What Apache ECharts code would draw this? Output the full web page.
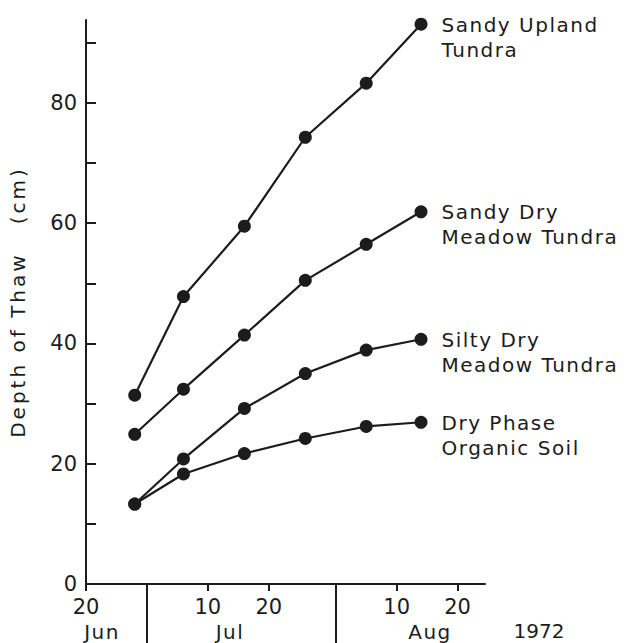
<!DOCTYPE html>
<html>
<head>
<meta charset="utf-8">
<title>Depth of Thaw, 1972</title>
<script src="https://cdn.jsdelivr.net/npm/echarts@6/dist/echarts.min.js"></script>
<style>
  html, body { margin: 0; padding: 0; background: #ffffff; }
  #chart { width: 633px; height: 643px; }
</style>
</head>
<body>
<div id="chart"></div>
<script>
// Season start used as day 0 of the horizontal axis
const seasonStart = '1972-06-20';
const seasonEndDay = 65.5;

// Thaw-depth survey dates
const sampleDates = ['1972-06-28', '1972-07-06', '1972-07-16', '1972-07-26', '1972-08-05', '1972-08-14'];

// Depth of thaw (cm) for each site
const siteNames = ['Sandy Upland\nTundra', 'Sandy Dry\nMeadow Tundra', 'Silty Dry\nMeadow Tundra', 'Dry Phase\nOrganic Soil'];
const sandyUpland     = [31.4, 47.8, 59.5, 74.3, 83.3, 93.1];
const sandyDryMeadow  = [24.9, 32.4, 41.4, 50.5, 56.5, 61.9];
const siltyDryMeadow  = [13.3, 20.8, 29.2, 35.0, 38.9, 40.7];
const dryPhaseOrganic = [13.3, 18.3, 21.7, 24.2, 26.2, 26.9];

// Date axis ticks and labels
const dayTickDates = ['1972-06-20', '1972-07-10', '1972-07-20', '1972-08-10', '1972-08-20'];
const dayTickLabels = ['20', '10', '20', '10', '20'];
const monthEndDates = ['1972-06-30', '1972-07-31'];
const monthLabels = ['Jun', 'Jul', 'Aug'];
const yearLabel = '1972';

// Depth axis ticks and labels
const depthTicks = [0, 10, 20, 30, 40, 50, 60, 70, 80, 90];
const depthLabels = [0, 20, 40, 60, 80];
const depthMax = 93.8;
const depthTitle = 'Depth of Thaw   (cm)';

const INK = '#1c1c1c';
const FONT = 'DejaVu Sans';

function dayOf(dateStr) {
  return Math.round((Date.parse(dateStr) - Date.parse(seasonStart)) / 86400000);
}

const dayTicks = dayTickDates.map(dayOf);
const dayLabelMap = {};
dayTicks.forEach((d, i) => { dayLabelMap[d] = dayTickLabels[i]; });
const sampleDays = sampleDates.map(dayOf);

const siteValues = [sandyUpland, sandyDryMeadow, siltyDryMeadow, dryPhaseOrganic];

function buildSeries(name, values) {
  const last = values.length - 1;
  return {
    name: name,
    type: 'line',
    xAxisIndex: 0,
    yAxisIndex: 0,
    symbol: 'circle',
    symbolSize: 13,
    lineStyle: { color: INK, width: 2.2 },
    itemStyle: { color: INK },
    data: values.map((v, i) => {
      const point = [sampleDays[i], v];
      if (i !== last) return point;
      return {
        value: point,
        label: {
          show: true,
          position: 'right',
          distance: 14,
          offset: [0, 13],
          formatter: name,
          color: INK,
          fontFamily: FONT,
          fontSize: 20,
          lineHeight: 25,
          align: 'left'
        }
      };
    })
  };
}

function monthText(x, y, text) {
  return {
    type: 'text', x: x, y: y,
    style: { text: text, fill: INK, font: '20px "DejaVu Sans"', align: 'center', verticalAlign: 'middle' }
  };
}

const chart = echarts.init(document.getElementById('chart'), null, { renderer: 'svg' });

chart.setOption({
  animation: false,
  backgroundColor: '#ffffff',
  grid: { left: 85, right: 148, top: 20, bottom: 59 },
  xAxis: [
    {
      type: 'value',
      min: 0,
      max: seasonEndDay,
      position: 'bottom',
      axisLine: { show: true, onZero: false, lineStyle: { color: INK, width: 2 } },
      axisTick: { show: true, inside: false, length: 7, customValues: dayTicks, lineStyle: { color: INK, width: 2 } },
      axisLabel: {
        show: true,
        customValues: dayTicks,
        margin: 12,
        color: INK,
        fontFamily: FONT,
        fontSize: 21,
        formatter: v => dayLabelMap[Math.round(v)] || ''
      },
      splitLine: { show: false }
    },
    {
      // month boundaries drawn as long ticks below the date axis
      type: 'value',
      min: 0,
      max: seasonEndDay,
      position: 'bottom',
      axisLine: { show: false },
      axisTick: { show: true, inside: false, length: 60, customValues: monthEndDates.map(dayOf), lineStyle: { color: INK, width: 2 } },
      axisLabel: { show: false },
      splitLine: { show: false }
    }
  ],
  yAxis: {
    type: 'value',
    min: 0,
    max: depthMax,
    name: depthTitle,
    nameLocation: 'middle',
    nameGap: 58,
    nameTextStyle: { color: INK, fontFamily: FONT, fontSize: 20 },
    axisLine: { show: true, lineStyle: { color: INK, width: 2 } },
    axisTick: { show: true, inside: true, length: 10, customValues: depthTicks, lineStyle: { color: INK, width: 2 } },
    axisLabel: {
      show: true,
      customValues: depthLabels,
      margin: 9,
      color: INK,
      fontFamily: FONT,
      fontSize: 21
    },
    splitLine: { show: false }
  },
  graphic: [
    monthText(102, 632, monthLabels[0]),
    monthText(230, 632, monthLabels[1]),
    monthText(430, 632, monthLabels[2]),
    monthText(539, 631, yearLabel)
  ],
  series: siteNames.map((n, i) => buildSeries(n, siteValues[i]))
});

// Widen the lettering of the word labels (the drafting style uses open spacing)
function spaceLettering() {
  const texts = document.querySelectorAll('#chart svg text');
  texts.forEach(t => {
    const s = t.textContent || '';
    if (s.indexOf('Depth') === 0) {
      t.style.letterSpacing = '3px';
    } else if (/[A-Za-z]/.test(s)) {
      t.style.letterSpacing = '1.5px';
    }
  });
}
chart.on('finished', spaceLettering);
spaceLettering();
requestAnimationFrame(spaceLettering);
setTimeout(spaceLettering, 50);
</script>
</body>
</html>
